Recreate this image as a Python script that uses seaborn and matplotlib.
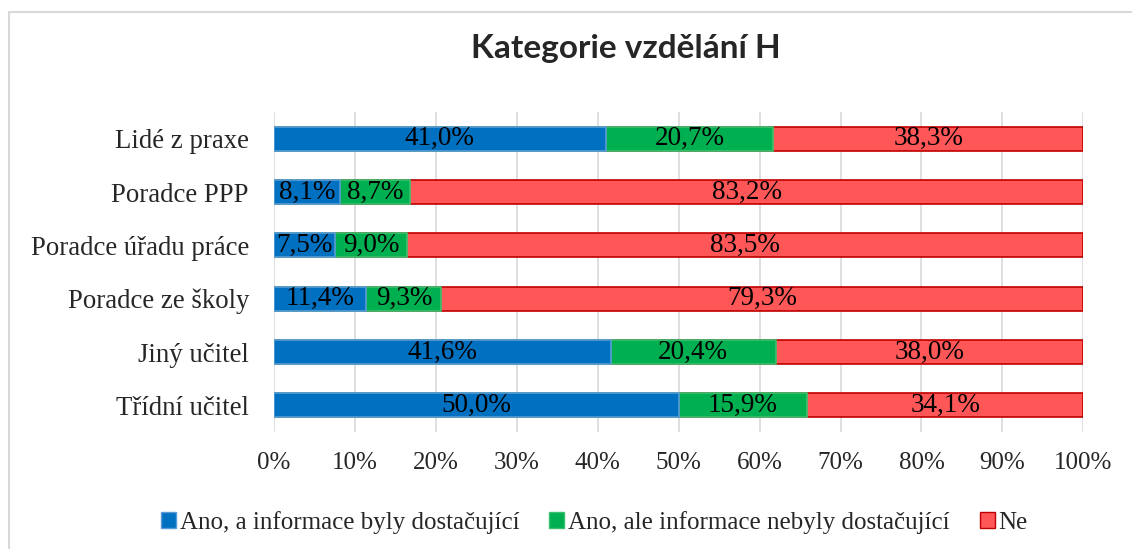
import matplotlib
matplotlib.use("Agg")
import matplotlib.pyplot as plt
import matplotlib.patches as mpatches
import seaborn as sns
import pandas as pd
import numpy as np

# data (top to bottom as in chart)
categories = ["Lidé z praxe", "Poradce PPP", "Poradce úřadu práce",
              "Poradce ze školy", "Jiný učitel", "Třídní učitel"]
ano_dost = [41.0, 8.1, 7.5, 11.4, 41.6, 50.0]
ano_nedost = [20.7, 8.7, 9.0, 9.3, 20.4, 15.9]
ne = [38.3, 83.2, 83.5, 79.3, 38.0, 34.1]
series_names = ["Ano, a informace byly dostačující",
                "Ano, ale informace nebyly dostačující", "Ne"]
title = "Kategorie vzdělání H"

colors = ["#0070C0", "#00B050", "#FF5757"]
edges = ["#5B9BD5", "#3CC070", "#C00000"]

df = pd.DataFrame({"cat": categories, "a": ano_dost, "b": ano_nedost, "c": ne})
df["ab"] = df["a"] + df["b"]
df["abc"] = df["ab"] + df["c"]

sns.set_style("white")
plt.rcParams["font.family"] = ["Liberation Serif", "DejaVu Serif"]

fig = plt.figure(figsize=(11.32, 5.49), dpi=100)
ax = fig.add_axes([0.242, 0.213, 0.715, 0.583])

bw = 0.45
# cumulative stacking, longest first
sns.barplot(data=df, x="abc", y="cat", orient="h", color=colors[2], width=bw,
            edgecolor=edges[2], linewidth=1.2, ax=ax, saturation=1, zorder=2)
sns.barplot(data=df, x="ab", y="cat", orient="h", color=colors[1], width=bw,
            edgecolor=edges[1], linewidth=1.2, ax=ax, saturation=1, zorder=2)
sns.barplot(data=df, x="a", y="cat", orient="h", color=colors[0], width=bw,
            edgecolor=edges[0], linewidth=1.2, ax=ax, saturation=1, zorder=2)

# value labels
for i, row in df.iterrows():
    starts = [0, row["a"], row["ab"]]
    for s, v in zip(starts, [row["a"], row["b"], row["c"]]):
        ax.text(s + v / 2, i, ("%.1f%%" % v).replace(".", ","), ha="center",
                va="center", fontsize=19.5, color="black", zorder=3)

ax.set_xlim(0, 100)
ax.set_ylim(5.5, -0.5)
ax.set_xticks(np.arange(0, 101, 10))
ax.set_xticklabels(["%d%%" % t for t in range(0, 101, 10)])
ax.xaxis.grid(True, color="#D9D9D9", linewidth=1.2, zorder=0)
ax.set_axisbelow(True)
ax.tick_params(axis="x", length=0, pad=14, labelsize=18)
ax.tick_params(axis="y", length=0, pad=18, labelsize=19.3)
ax.set_xlabel("")
ax.set_ylabel("")
for sp in ax.spines.values():
    sp.set_visible(False)

fig.text(0.553, 0.912, title, ha="center", va="center", fontsize=24,
         fontweight="bold", family=["Lato", "DejaVu Sans"])

handles = [mpatches.Patch(facecolor=c, edgecolor=e, label=n)
           for c, e, n in zip(colors, edges, series_names)]
fig.legend(handles=handles, loc="center", bbox_to_anchor=(0.525, 0.049),
           ncol=3, frameon=False, fontsize=18, handlelength=0.6,
           handleheight=0.6, handletextpad=0.15, columnspacing=1.2)

# chart area border
fig.patches.append(mpatches.Rectangle((9 / 1132, -0.1), 1.2, 1.1 - 12 / 549,
                                      transform=fig.transFigure, fill=False,
                                      edgecolor="#D9D9D9", linewidth=1.5))

fig.savefig("out.png", dpi=100)
